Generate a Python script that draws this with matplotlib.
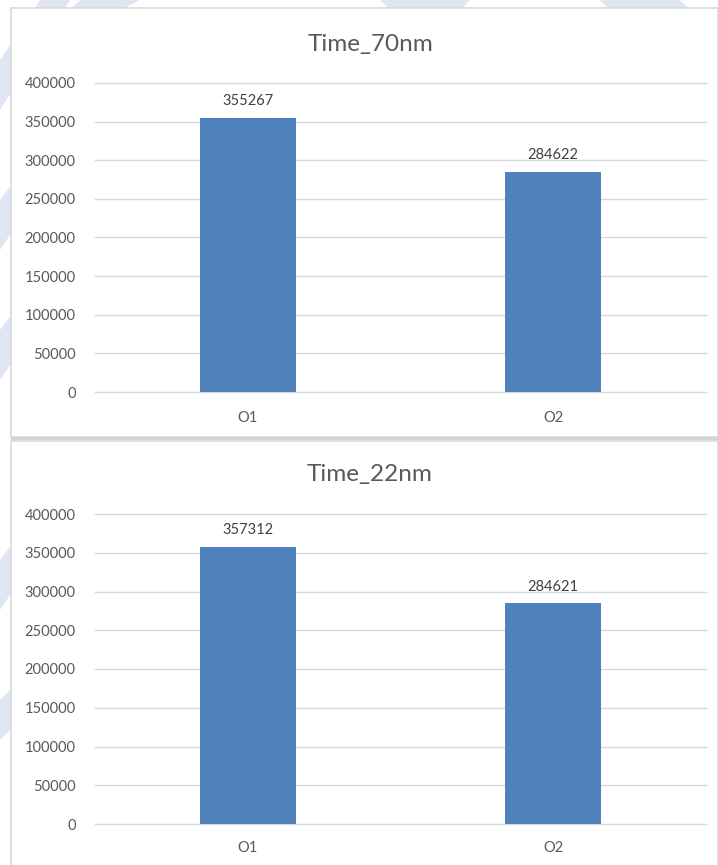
import matplotlib
matplotlib.use("Agg")
import matplotlib.pyplot as plt
from matplotlib.patches import Rectangle, Polygon

plt.rcParams['font.family'] = ['Lato', 'DejaVu Sans']

categories = ["O1", "O2"]
times_70nm = [355267, 284622]
times_22nm = [357312, 284621]
titles = ["Time_70nm", "Time_22nm"]
yticks = [0, 50000, 100000, 150000, 200000, 250000, 300000, 350000, 400000]

W, H = 718, 865
fig = plt.figure(figsize=(W / 100, H / 100), dpi=100)
fig.patch.set_facecolor("white")

def fx(px):
    return px / W

def fy(py):
    return 1 - py / H

# faint diagonal watermark bands behind the chart panels
wm = "#d3daf0"
bands = [
    [(0, 60), (40, 0), (70, 0), (0, 110)],
    [(0, 200), (60, 120), (60, 160), (0, 250)],
    [(0, 330), (60, 250), (60, 290), (0, 380)],
    [(0, 560), (60, 480), (60, 520), (0, 610)],
    [(0, 700), (60, 640), (60, 680), (0, 740)],
    [(80, 0), (140, 0), (120, 10), (70, 10)],
    [(380, 0), (470, 0), (460, 10), (390, 10)],
    [(600, 0), (680, 0), (690, 10), (610, 10)],
]
for b in bands:
    fig.patches.append(Polygon([(fx(x), fy(y)) for x, y in b], closed=True,
                               transform=fig.transFigure, facecolor=wm,
                               edgecolor="none", alpha=0.7, zorder=0))

# white chart panels with light borders
for top, bottom in [(8, 437), (441, 866)]:
    fig.patches.append(Rectangle((fx(11), fy(bottom)), fx(718) - fx(11), fy(top) - fy(bottom),
                                 transform=fig.transFigure, facecolor="white",
                                 edgecolor="#d9d9d9", linewidth=1.2, zorder=1))
fig.patches.append(Rectangle((fx(11), fy(440)), fx(718) - fx(11), fy(437) - fy(440),
                             transform=fig.transFigure, facecolor="#d4d4d4",
                             edgecolor="none", zorder=2))

panels = [
    (times_70nm, titles[0], 83, 392, 45, 418),
    (times_22nm, titles[1], 514, 824, 475, 848),
]

for values, title, ytop, ybot, ytitle, ylab in panels:
    ax = fig.add_axes([fx(95), fy(ybot), fx(706) - fx(95), fy(ytop) - fy(ybot)])
    ax.set_zorder(3)
    ax.patch.set_alpha(0)
    x = list(range(len(categories)))
    ax.bar(x, values, width=0.315, color="#4f81bd", zorder=3)
    ax.set_xlim(-0.5, 1.5)
    ax.set_ylim(0, 400000)
    ax.set_yticks(yticks)
    ax.set_yticklabels([str(v) for v in yticks], fontsize=10.5, color="#595959")
    for t in yticks:
        ax.axhline(t, color="#d9d9d9", linewidth=1, zorder=1, clip_on=False)
    ax.tick_params(axis="y", length=0, pad=14)
    ax.set_xticks(x)
    ax.set_xticklabels([])
    ax.tick_params(axis="x", length=0)
    for s in ax.spines.values():
        s.set_visible(False)
    for xi, v in zip(x, values):
        ax.annotate(str(v), (xi, v), xytext=(0, 7), textcoords="offset points",
                    ha="center", va="bottom", fontsize=10.5, color="#404040")
    for xi, c in zip(x, categories):
        xpix = 95 + (xi + 0.5) * (706 - 95) / 2
        fig.text(fx(xpix), fy(ylab), c, ha="center", va="center",
                 fontsize=10.5, color="#595959", zorder=4)
    fig.text(fx(370), fy(ytitle), title, ha="center", va="center",
             fontsize=17.5, color="#595959", zorder=4)

fig.savefig("out.png", dpi=100)
